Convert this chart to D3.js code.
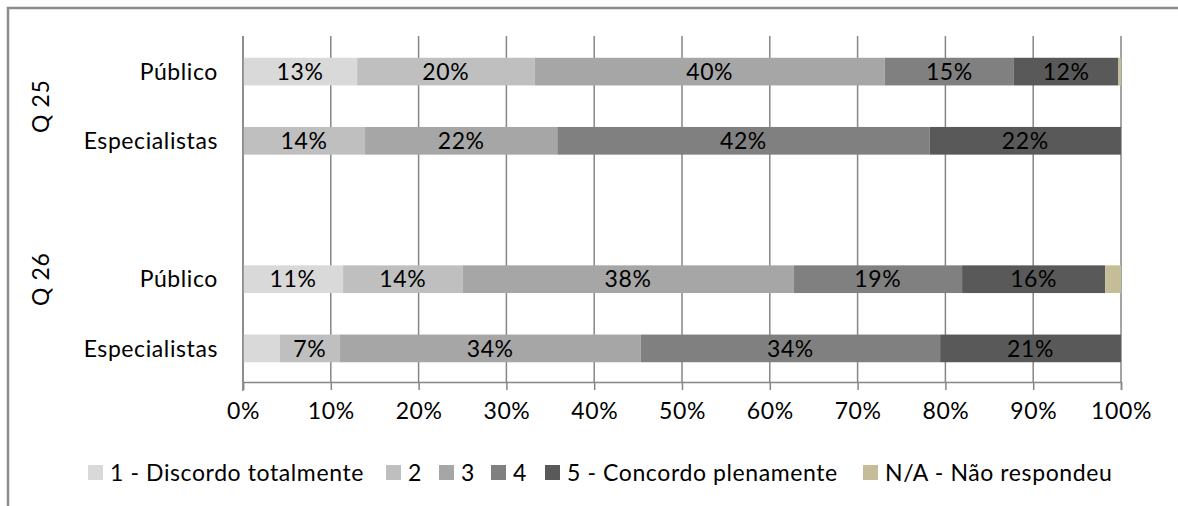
<!DOCTYPE html>
<html>
<head>
<meta charset="utf-8">
<script src="https://cdn.jsdelivr.net/npm/d3@7"></script>
<style>
  html, body { margin: 0; padding: 0; background: #fff; }
  svg { display: block; }
  text { font-family: Lato, "Open Sans", sans-serif; fill: #000; letter-spacing: 0.6px; }
</style>
</head>
<body>
<svg id="chart" width="1178" height="506"></svg>
<script>
// Row keys (top to bottom); the empty slot separates the two question groups
const rowKeys = ["q25-pub", "q25-esp", "gap", "q26-pub", "q26-esp"];
const rowLabels = ["Público", "Especialistas", "", "Público", "Especialistas"];
const groupNames = ["Q 25", "Q 26"];
const groupRows = [["q25-pub", "q25-esp"], ["gap", "q26-pub", "q26-esp"]];

// Answer scale
const seriesNames = ["1 - Discordo totalmente", "2", "3", "4", "5 - Concordo plenamente", "N/A - Não respondeu"];
const seriesColors = ["#d9d9d9", "#bfbfbf", "#a6a6a6", "#808080", "#595959", "#c4bd97"];

// Percentages per bar, order: Q25 Público, Q25 Especialistas, Q26 Público, Q26 Especialistas
const barKeys = ["q25-pub", "q25-esp", "q26-pub", "q26-esp"];
const s1 = [13.0, 0.0, 11.4, 4.2];
const s2 = [20.2, 13.9, 13.6, 6.8];
const s3 = [39.9, 21.9, 37.7, 34.3];
const s4 = [14.7, 42.4, 19.2, 34.1];
const s5 = [11.9, 21.8, 16.3, 20.6];
const sNA = [0.3, 0.0, 1.8, 0.0];
const seriesValues = [s1, s2, s3, s4, s5, sNA];

const tickValues = [0, 10, 20, 30, 40, 50, 60, 70, 80, 90, 100];

const svg = d3.select("#chart");
const FONT = 23;
const GRID = "#868686";

// chart frame
svg.append("path")
  .attr("d", "M8,506V8H1178")
  .attr("fill", "none")
  .attr("stroke", "#8c8c8c")
  .attr("stroke-width", 2.5);

const x = d3.scaleLinear().domain([0, 100]).range([243, 1121]);
const y = d3.scaleBand().domain(rowKeys).range([37, 383]).paddingInner(0.6).paddingOuter(0.3);
const axisY = 382;

// vertical gridlines
svg.append("g").selectAll("line").data(tickValues).join("line")
  .attr("x1", d => x(d)).attr("x2", d => x(d))
  .attr("y1", 36).attr("y2", axisY)
  .attr("stroke", GRID).attr("stroke-width", 1.5);

// stacked bars
const rows = barKeys.map((k, i) => {
  let acc = 0;
  return seriesValues.map((vals, s) => {
    const v = vals[i];
    const seg = { key: k, series: s, x0: acc, x1: acc + v, v };
    acc += v;
    return seg;
  });
}).flat();

svg.append("g").selectAll("rect").data(rows.filter(d => d.v > 0)).join("rect")
  .attr("x", d => x(d.x0))
  .attr("width", d => x(d.x1) - x(d.x0))
  .attr("y", d => y(d.key))
  .attr("height", y.bandwidth())
  .attr("fill", d => seriesColors[d.series]);

// value labels
svg.append("g").selectAll("text")
  .data(rows.filter(d => d.v >= 5 && d.series < 5)).join("text")
  .attr("x", d => (x(d.x0) + x(d.x1)) / 2)
  .attr("y", d => y(d.key) + y.bandwidth() / 2)
  .attr("dy", "0.36em")
  .attr("text-anchor", "middle")
  .attr("font-size", FONT)
  .text(d => Math.round(d.v) + "%");

// category axis line
svg.append("line")
  .attr("x1", x(0)).attr("x2", x(0))
  .attr("y1", 36).attr("y2", 391)
  .attr("stroke", GRID).attr("stroke-width", 1.5);

// value axis
const xAxis = svg.append("g")
  .attr("transform", `translate(0,${axisY})`)
  .call(d3.axisBottom(x).tickValues(tickValues).tickSize(8).tickPadding(13).tickFormat(d => d + "%"));
xAxis.select(".domain").attr("stroke", GRID).attr("stroke-width", 1.5);
xAxis.selectAll(".tick line").attr("stroke", GRID).attr("stroke-width", 1.5);
xAxis.selectAll(".tick text")
  .attr("font-size", FONT)
  .attr("font-family", "Lato, 'Open Sans', sans-serif")
  .attr("fill", "#000");

// row labels
svg.append("g").selectAll("text").data(rowKeys.filter((k, i) => rowLabels[i])).join("text")
  .attr("x", 218)
  .attr("y", d => y(d) + y.bandwidth() / 2)
  .attr("dy", "0.36em")
  .attr("text-anchor", "end")
  .attr("font-size", FONT)
  .text(d => rowLabels[rowKeys.indexOf(d)]);

// group labels (rotated)
svg.append("g").selectAll("text").data(groupNames).join("text")
  .attr("transform", (d, i) => {
    const keys = groupRows[i];
    const top = y(keys[0]) - y.step() * y.paddingInner() / 2;
    const bottom = y(keys[keys.length - 1]) + y.bandwidth() + y.step() * y.paddingInner() / 2;
    return `translate(41,${(top + bottom) / 2}) rotate(-90)`;
  })
  .attr("dy", "0.36em")
  .attr("text-anchor", "middle")
  .attr("font-size", FONT)
  .text(d => d);

// legend
const legendX = [88, 386, 439, 491, 545, 863];
const legend = svg.append("g").selectAll("g").data(seriesNames).join("g")
  .attr("transform", (d, i) => `translate(${legendX[i]},465)`);
legend.append("rect")
  .attr("width", 15).attr("height", 15)
  .attr("fill", (d, i) => seriesColors[i]);
legend.append("text")
  .attr("x", 22).attr("y", 8)
  .attr("dy", "0.36em")
  .attr("font-size", FONT)
  .text(d => d);
</script>
</body>
</html>
